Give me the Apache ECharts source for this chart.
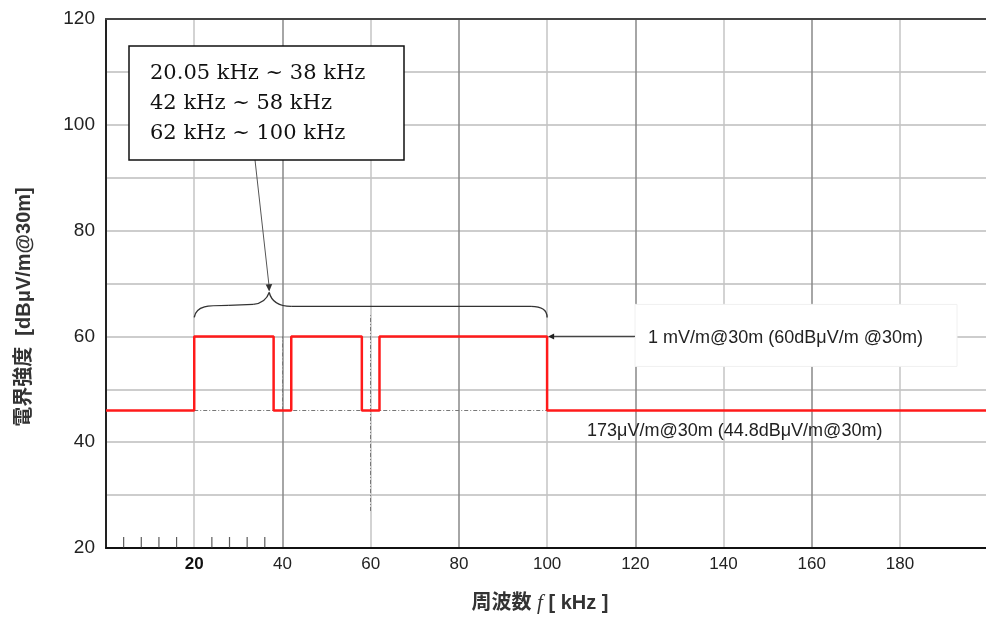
<!DOCTYPE html>
<html>
<head>
<meta charset="utf-8">
<script src="https://cdn.jsdelivr.net/npm/echarts@6/dist/echarts.min.js"></script>
<style>html,body{margin:0;padding:0;background:#fff;overflow:hidden}#c{width:986px;height:619px}</style>
</head>
<body>
<div id="c"></div>
<script>
// ---- data ----
const bandStarts = [20, 42, 62];       // kHz
const bandEnds   = [38, 58, 100];      // kHz
const highLevel = 60;                  // dBμV/m
const lowLevel  = 46;                  // dBμV/m (as drawn)
const freqMin = 0, freqMax = 199.5;
const levelMin = 20, levelMax = 120;
const xTickLabels = [20, 40, 60, 80, 100, 120, 140, 160, 180];
const yTickLabels = [20, 40, 60, 80, 100, 120];
const minorTickFreqs = [4, 8, 12, 16, 24, 28, 32, 36];
const refHLine = {from: 20, to: 100, level: 46};
const refVLines = [{f: 40, from: 46, to: 60}, {f: 60, from: 27, to: 64}];
const braceRange = {from: 20, to: 100, peak: 37};
const bandText = ['20.05 kHz ~ 38 kHz', '42 kHz ~ 58 kHz', '62 kHz ~ 100 kHz'];
const highText = '1 mV/m@30m (60dBμV/m @30m)';
const lowText = '173μV/m@30m (44.8dBμV/m@30m)';

// build step polyline from the band arrays
const stepPoints = [[freqMin, lowLevel]];
for (let i = 0; i < bandStarts.length; i++) {
  stepPoints.push([bandStarts[i], lowLevel], [bandStarts[i], highLevel],
                  [bandEnds[i], highLevel], [bandEnds[i], lowLevel]);
}
stepPoints.push([freqMax, lowLevel]);

const sans = 'Liberation Sans, Arial, sans-serif';
const chart = echarts.init(document.getElementById('c'));
const dash = {color: '#777', width: 1, type: [4, 2, 1, 2]};
chart.setOption({
  animation: false,
  grid: {left: 106, right: 0, top: 19, bottom: 71},
  xAxis: [{
    type: 'value', min: freqMin, max: freqMax, interval: 20, position: 'bottom',
    axisLine: {show: true, onZero: false, lineStyle: {color: '#111', width: 2}},
    axisTick: {show: false},
    axisLabel: {
      margin: 8, color: '#222', fontSize: 17, fontFamily: sans, showMaxLabel: false,
      formatter: v => xTickLabels.indexOf(v) < 0 ? '' : (v === 20 ? '{b|' + v + '}' : String(v)),
      rich: {b: {fontWeight: 'bold', fontSize: 17, fontFamily: sans, color: '#111'}}
    },
    splitLine: {show: true, showMaxLine: false, lineStyle: {color: ['#888', '#c4c4c4'], width: 1.5}}
  }, {
    type: 'value', min: freqMin, max: freqMax, interval: 20, position: 'top',
    axisLine: {show: true, onZero: false, lineStyle: {color: '#444', width: 2}},
    axisTick: {show: false}, axisLabel: {show: false}, splitLine: {show: false}
  }],
  yAxis: {
    type: 'value', min: levelMin, max: levelMax, interval: 10,
    axisLine: {show: true, onZero: false, lineStyle: {color: '#222', width: 2}},
    axisTick: {show: false},
    axisLabel: {margin: 11, color: '#222', fontSize: 19, fontFamily: sans,
      formatter: v => yTickLabels.indexOf(v) < 0 ? '' : String(v)},
    splitLine: {show: true, lineStyle: {color: '#bdbdbd', width: 1.5}}
  },
  series: [{
    type: 'line', data: [], silent: true, z: 3,
    markLine: {
      symbol: 'none', silent: true, label: {show: false}, lineStyle: dash,
      data: [
        [{coord: [refHLine.from, refHLine.level]}, {coord: [refHLine.to, refHLine.level]}]
      ].concat(refVLines.map(v => [{coord: [v.f, v.from]}, {coord: [v.f, v.to]}]))
    }
  }, {
    type: 'scatter', data: minorTickFreqs.map(f => [f, levelMin]),
    symbol: 'rect', symbolSize: [1.2, 11], symbolOffset: [0, -5.5],
    itemStyle: {color: '#333'}, silent: true, z: 4
  }, {
    type: 'line', data: stepPoints, showSymbol: false, z: 5,
    lineStyle: {color: '#ff1a1a', width: 2.5}
  }]
});

function px(x, y) { return chart.convertToPixel({gridIndex: 0}, [x, y]); }
const L = px(braceRange.from, 0)[0], R = px(braceRange.to, 0)[0], P = px(braceRange.peak, 0)[0];
const yEnd = px(0, highLevel)[1] - 19;   // brace ends
const yBar = yEnd - 11, yPk = yEnd - 25;
const bStyle = {stroke: '#333', lineWidth: 1.4, fill: null};
function bez(x1, y1, c1x, c1y, c2x, c2y, x2, y2) {
  return {type: 'bezierCurve', shape: {x1: x1, y1: y1, cpx1: c1x, cpy1: c1y, cpx2: c2x, cpy2: c2y, x2: x2, y2: y2}, style: bStyle, z: 10};
}
function seg(x1, y1, x2, y2, st) {
  return {type: 'line', shape: {x1: x1, y1: y1, x2: x2, y2: y2}, style: st || bStyle, z: 10};
}
const hiY = px(0, highLevel)[1];
const boxX = 129, boxY = 46, boxW = 275, boxH = 114;
const box2X = 635, box2Y = hiY - 32, box2W = 322, box2H = 62;
const lowPt = px(0, lowLevel);

chart.setOption({graphic: [
  bez(L, yEnd, L + 2, yBar - 1, L + 14, yBar - 1, L + 34, yBar - 1),
  seg(L + 34, yBar - 1, P - 16, yBar - 2),
  bez(P - 16, yBar - 2, P - 6, yBar - 3, P - 2, yPk + 6, P, yPk),
  bez(P, yPk, P + 2, yPk + 8, P + 8, yBar, P + 22, yBar),
  seg(P + 22, yBar, R - 16, yBar),
  bez(R - 16, yBar, R - 6, yBar, R, yBar + 3, R, yEnd),
  seg(255, boxY + boxH, P, yPk - 5, {stroke: '#555', lineWidth: 1}),
  {type: 'polygon', shape: {points: [[P, yPk - 1], [P - 3.5, yPk - 8], [P + 3, yPk - 8.5]]}, style: {fill: '#333'}, z: 10},
  {type: 'rect', shape: {x: boxX, y: boxY, width: boxW, height: boxH}, style: {fill: '#fff', stroke: '#111', lineWidth: 1.5}, z: 10},
  {type: 'text', x: boxX + 21, y: boxY + 58, style: {text: bandText.join('\n'), fill: '#111', font: '21px "DejaVu Serif", "Liberation Serif", serif', lineHeight: 30, verticalAlign: 'middle'}, z: 11},
  {type: 'rect', shape: {x: box2X, y: box2Y, width: box2W, height: box2H}, style: {fill: '#fff', stroke: '#f0f0f0', lineWidth: 1}, z: 10},
  {type: 'text', x: box2X + 13, y: hiY + 2, style: {text: highText, fill: '#222', font: '18px "Liberation Sans", Arial, sans-serif', verticalAlign: 'middle'}, z: 11},
  seg(box2X, hiY, R + 5, hiY, {stroke: '#444', lineWidth: 1.2}),
  {type: 'polygon', shape: {points: [[R + 1, hiY], [R + 7, hiY - 3], [R + 7, hiY + 3]]}, style: {fill: '#222'}, z: 10},
  {type: 'text', x: 587, y: lowPt[1] + 21, style: {text: lowText, fill: '#222', font: '18px "Liberation Sans", Arial, sans-serif', verticalAlign: 'middle'}, z: 11},
  {type: 'text', x: 24, y: 307, rotation: Math.PI / 2, style: {text: '電界強度  [dBμV/m@30m]', fill: '#333', font: 'bold 20px "Liberation Sans", "Noto Sans CJK JP", sans-serif', align: 'center', verticalAlign: 'middle'}, z: 11},
  {type: 'text', x: 540, y: 603, style: {text: '{a|周波数 }{f|f}{a| [ kHz ]}', align: 'center', verticalAlign: 'middle',
    rich: {a: {font: 'bold 20px "Liberation Sans", "Noto Sans CJK JP", sans-serif', fill: '#333'},
           f: {font: 'italic 21px "Liberation Serif", serif', fill: '#333'}}}, z: 11}
]});
</script>
</body>
</html>
